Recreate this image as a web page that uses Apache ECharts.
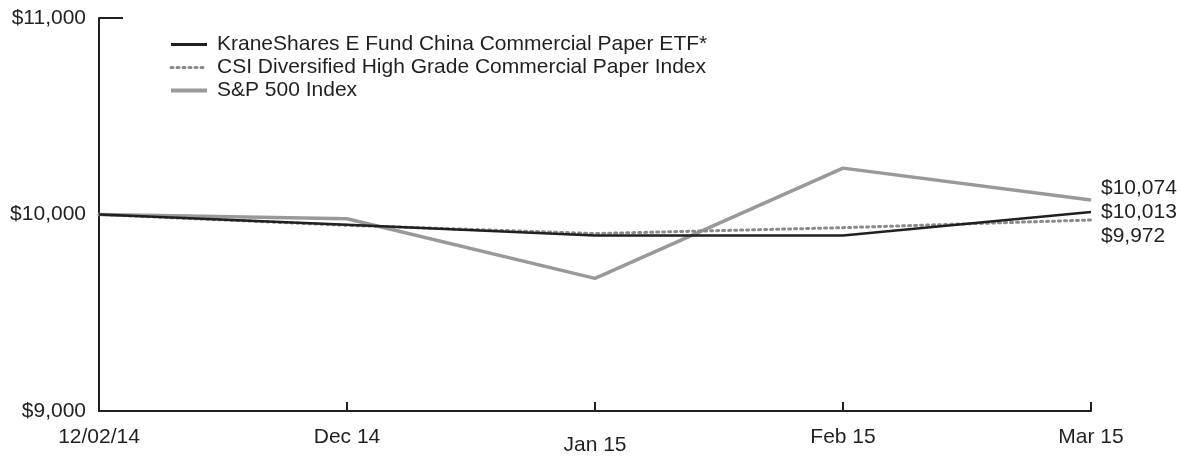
<!DOCTYPE html>
<html>
<head>
<meta charset="utf-8">
<script src="https://cdn.jsdelivr.net/npm/echarts@6/dist/echarts.min.js"></script>
<style>html,body{margin:0;padding:0;background:#fff}#c{width:1182px;height:456px}</style>
</head>
<body>
<div id="c"></div>
<script>
const categories = ['12/02/14', 'Dec 14', 'Jan 15', 'Feb 15', 'Mar 15'];
const fundName = 'KraneShares E Fund China Commercial Paper ETF*';
const indexName = 'CSI Diversified High Grade Commercial Paper Index';
const spName = 'S&P 500 Index';
const fundValues = [10000, 9948, 9893, 9893, 10013];
const indexValues = [10000, 9945, 9903, 9933, 9972];
const spValues = [10000, 9978, 9675, 10236, 10074];
const yTicks = [9000, 10000, 11000];

const chart = echarts.init(document.getElementById('c'), null, {renderer: 'canvas'});
const FONT = 'Liberation Sans, Arial, Helvetica, sans-serif';
const TXT = '#231f20';
const FS = 21;
function money(v){ return '$' + Math.round(v).toLocaleString('en-US'); }

chart.setOption({
  animation: false,
  backgroundColor: '#fff',
  textStyle: {fontFamily: FONT, color: TXT},
  grid: {left: 99, right: 91, top: 18, bottom: 36, containLabel: false},
  legend: {
    orient: 'vertical', left: 164, top: 29, itemGap: 2, itemWidth: 36, itemHeight: 14,
    itemStyle: {opacity: 0},
    textStyle: {fontSize: FS, color: TXT, fontFamily: FONT, padding: [0, 0, 0, 5]},
    data: [
      {name: fundName, lineStyle: {width: 3}},
      {name: indexName, lineStyle: {width: 3}},
      {name: spName, lineStyle: {width: 4}}
    ]
  },
  xAxis: {
    type: 'category', data: categories, boundaryGap: false,
    axisLine: {lineStyle: {color: TXT, width: 2}},
    axisTick: {inside: true, length: 9, lineStyle: {color: TXT, width: 2}},
    axisLabel: {
      fontSize: FS, color: TXT, margin: 16, fontFamily: FONT,
      formatter: function(v){ return v === 'Jan 15' ? '{low|' + v + '}' : v; },
      rich: {low: {fontSize: FS, color: TXT, fontFamily: FONT, padding: [8, 0, 0, 0]}}
    },
    splitLine: {show: false}
  },
  yAxis: {
    type: 'value', min: yTicks[0], max: yTicks[yTicks.length - 1], interval: 1000,
    axisLine: {show: true, lineStyle: {color: TXT, width: 2}},
    axisTick: {show: true, inside: true, length: 24, customValues: [11000], lineStyle: {color: TXT, width: 2}},
    axisLabel: {fontSize: FS, color: TXT, margin: 13, fontFamily: FONT, formatter: money},
    splitLine: {show: false}
  },
  series: [
    {
      name: spName, type: 'line', data: spValues, symbol: 'none', z: 1,
      lineStyle: {color: '#999999', width: 3.5}, itemStyle: {color: '#999999'},
      endLabel: {show: true, formatter: function(p){ return money(p.value); }, fontSize: FS, color: TXT, fontFamily: FONT, distance: 10, offset: [0, -12]}
    },
    {
      name: indexName, type: 'line', data: indexValues, symbol: 'none', z: 2,
      lineStyle: {color: '#8a8a8a', width: 3, type: [2, 4], cap: 'round'}, itemStyle: {color: '#8a8a8a'},
      endLabel: {show: true, formatter: function(p){ return money(p.value); }, fontSize: FS, color: TXT, fontFamily: FONT, distance: 10, offset: [0, 16]}
    },
    {
      name: fundName, type: 'line', data: fundValues, symbol: 'none', z: 3,
      lineStyle: {color: '#231f20', width: 2.5}, itemStyle: {color: '#231f20'},
      endLabel: {show: true, formatter: function(p){ return money(p.value); }, fontSize: FS, color: TXT, fontFamily: FONT, distance: 10, offset: [0, 0]}
    }
  ]
});
</script>
</body>
</html>
